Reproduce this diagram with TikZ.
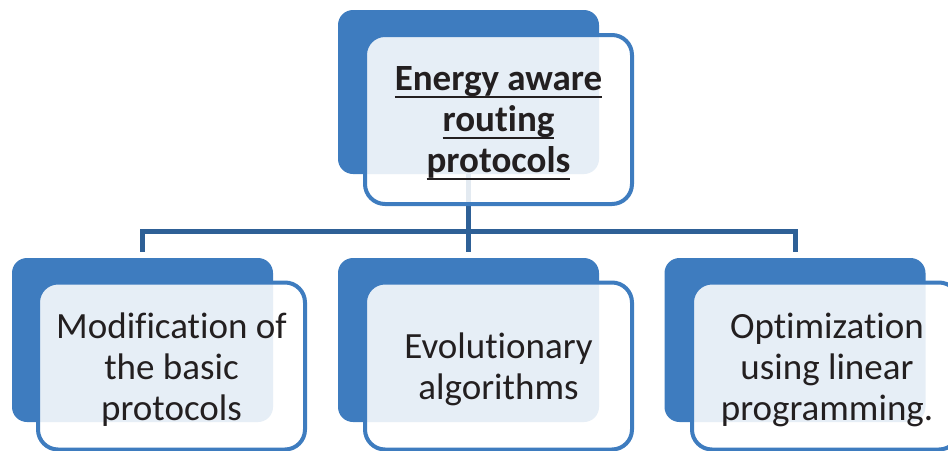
\documentclass[tikz,border=0pt]{standalone}
\usepackage{fontspec}
\setmainfont[Ligatures={NoCommon}]{Carlito}
\definecolor{backblue}{HTML}{3E7CBF}
\definecolor{linkblue}{HTML}{2E6096}
\definecolor{txtcol}{HTML}{231F20}
\newcommand\myul[1]{\leavevmode\setbox0\hbox{#1}\rlap{\vrule height -5pt depth 7.5pt width \wd0}\box0}
\begin{document}
\begin{tikzpicture}[x=1pt,y=-1pt,
  backbox/.style={fill=backblue, draw=none, rounded corners=15pt, minimum width=261pt, minimum height=164pt, inner sep=0pt},
  frontbox/.style={draw=backblue, line width=4pt, fill=white, fill opacity=0.87, rounded corners=20pt,
    minimum width=267pt, minimum height=167pt, inner sep=0pt},
  label/.style={inner sep=0pt, text width=262pt, align=flush center, font=\fontsize{37}{41}\selectfont, text=txtcol},
  link/.style={draw=linkblue, line width=5pt}]
\useasboundingbox (0,0) rectangle (948,450);
\clip (0,0) rectangle (948,450);
% back boxes
\node[backbox] (t) at (468.5,92) {};
\node[backbox] (l) at (142.5,340) {};
\node[backbox] (m) at (468.5,340) {};
\node[backbox] (r) at (795,340) {};
% connectors
\coordinate (hub) at (468.5,231);
\draw[link] (t.south) -- (hub);
\draw[link, shorten >=6pt] (hub) -| (l.north);
\draw[link, shorten >=6pt] (hub) -- (m.north);
\draw[link, shorten >=6pt] (hub) -| (r.north);
% front boxes
\node[frontbox, minimum height=169pt] (tf) at (498.5,119.5) {};
\node[frontbox] (lf) at (171.5,366) {};
\node[frontbox] (mf) at (498.5,366) {};
\node[frontbox] (rf) at (825.5,366) {};
% texts
\node[label, font=\fontsize{37}{41}\selectfont\bfseries] (tt) at ([yshift=-4pt]tf.center)
  {\myul{Energy aware}\\\myul{routing}\\\myul{protocols}};
\node[label] (lt) at ([yshift=-4pt]lf.center) {Modification of\\the basic\\protocols};
\node[label] (mt) at ([yshift=-3pt]mf.center) {Evolutionary\\algorithms};
\node[label] (rt) at ([xshift=1.5pt,yshift=-4pt]rf.center) {Optimization\\using linear\\programming.};
\end{tikzpicture}
\end{document}
